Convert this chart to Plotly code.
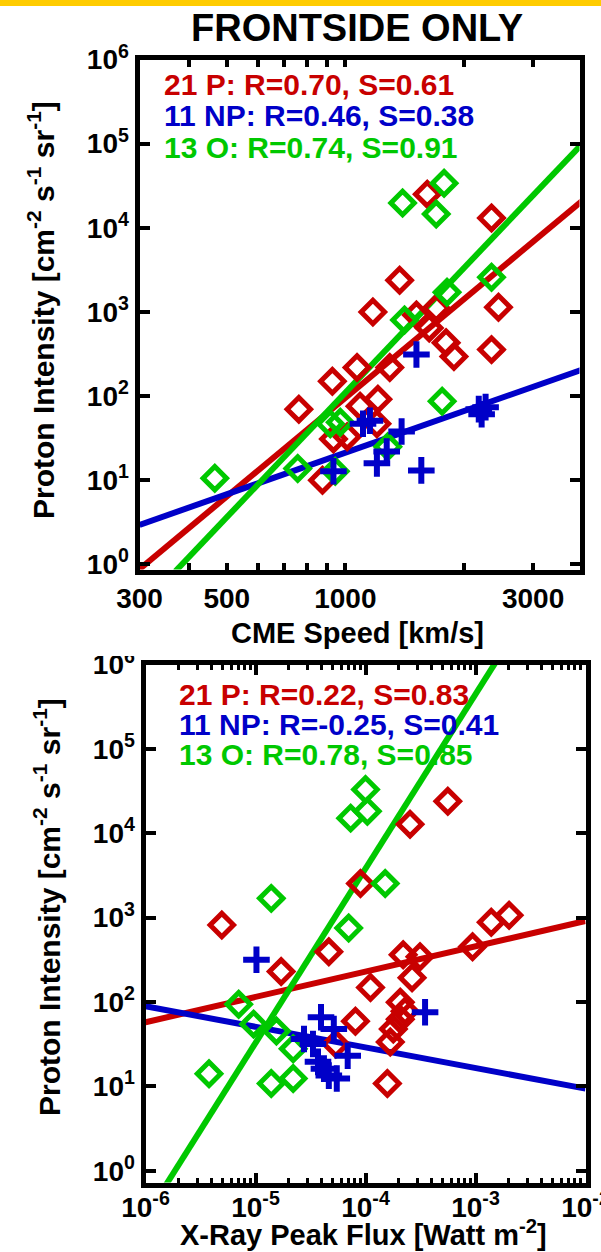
import plotly.graph_objects as go

W, H = 601, 1252
FONT = "Liberation Sans"
RED, BLUE, GREEN = "#C80000", "#0000C8", "#00C800"

# ---------------- TOP PANEL: CME speed vs proton intensity ----------------
top_p_speed = [1615, 2352, 1374, 1175, 2450, 1702, 1516, 1634, 1803, 1888, 2352,
               1297, 1071, 927, 762, 1210, 1090, 933, 1011, 1203, 875]
top_p_int = [25100, 13100, 2380, 1000, 1140, 1110, 922, 647, 432, 296, 357,
             219, 219, 150, 70, 92, 76, 31, 33, 47, 10]

top_np_speed = [1516, 2183, 2220, 2272, 1155, 1109, 1390, 1274, 1203, 1560, 933]
top_np_int = [312, 70, 61, 74, 51, 47, 38, 22, 15.9, 13.1, 12.8]

top_o_speed = [1782, 1398, 1702, 2352, 1813, 1414, 1762, 916, 971, 1282, 757, 943, 466]
top_o_int = [33800, 19700, 14600, 2580, 1720, 805, 87, 47, 49, 25, 13.8, 12.8, 10.6]

# fit line end points (data units)
top_fit_p_x, top_fit_p_y = [300, 4000], [0.88, 21000]
top_fit_np_x, top_fit_np_y = [300, 4000], [2.95, 207]
top_fit_o_x, top_fit_o_y = [370, 4000], [0.83, 100000]

top_xtick_vals = [300, 500, 1000, 3000]
top_xtick_text = ["300", "500", "1000", "3000"]
top_xminor_vals = [400, 600, 700, 800, 900, 2000]

# ---------------- BOTTOM PANEL: X-ray flux vs proton intensity ----------------
bot_p_flux = [5.6e-4, 2.54e-4, 9.0e-5, 4.94e-6, 1.71e-5, 4.64e-5, 2.2e-4, 3.13e-4,
              9.4e-4, 1.39e-3, 2.02e-3, 1.11e-4, 2.65e-4, 2.07e-4, 2.29e-4, 2.07e-4,
              1.79e-4, 1.68e-4, 8.1e-5, 1.58e-4, 5.37e-5]
bot_p_int = [23900, 12800, 2530, 815, 229, 393, 362, 343, 450, 883, 1067, 148, 194,
             99, 77.6, 62.5, 47.7, 33.6, 59.2, 10.8, 31.8]

bot_np_flux = [1.02e-5, 3.48e-4, 3.94e-5, 5.15e-5, 2.76e-5, 3.33e-5, 6.89e-5,
               3.7e-5, 4.19e-5, 4.64e-5, 5.48e-5]
bot_np_int = [316, 75.5, 66, 47.7, 36.4, 31.8, 23, 19.5, 16.2, 13.4, 12.4]

bot_o_flux = [1.0e-4, 7.33e-5, 1.04e-4, 1.51e-4, 1.39e-5, 7.03e-5, 7.03e-6, 9.6e-6,
              1.55e-5, 2.2e-5, 3.78e-6, 1.39e-5, 2.2e-5]
bot_o_int = [33000, 15100, 18200, 2530, 1690, 751, 93.7, 54.6, 45.2, 27.8, 14.1,
             10.8, 12.4]

bot_fit_p_x, bot_fit_p_y = [1e-6, 1e-2], [57.5, 912]
bot_fit_np_x, bot_fit_np_y = [1e-6, 1e-2], [89, 9.4]
bot_fit_o_x, bot_fit_o_y = [1e-6, 2e-3], [0.28, 1.86e6]

bot_xtick_vals = [1e-6, 1e-5, 1e-4, 1e-3, 1e-2]
bot_xtick_text = ["10<sup>-6</sup>", "10<sup>-5</sup>", "10<sup>-4</sup>",
                  "10<sup>-3</sup>", "10<sup>-2</sup>"]

ytick_vals = [1, 10, 100, 1000, 10000, 100000, 1000000]
ytick_text = ["10<sup>0</sup>", "10<sup>1</sup>", "10<sup>2</sup>", "10<sup>3</sup>",
              "10<sup>4</sup>", "10<sup>5</sup>", "10<sup>6</sup>"]

top_labels = ["21 P: R=0.70, S=0.61", "11 NP: R=0.46, S=0.38", "13 O: R=0.74, S=0.91"]
bot_labels = ["21 P: R=0.22, S=0.83", "11 NP: R=-0.25, S=0.41", "13 O: R=0.78, S=0.85"]
label_colors = [RED, BLUE, GREEN]

fig = go.Figure()

def add_panel(xa, ya, p, np_, o, fits):
    for (x, y), col in zip(fits, [RED, BLUE, GREEN]):
        fig.add_trace(go.Scatter(x=x, y=y, mode="lines", line=dict(color=col, width=6),
                                 xaxis=xa, yaxis=ya, showlegend=False, hoverinfo="skip"))
    fig.add_trace(go.Scatter(x=p[0], y=p[1], mode="markers", xaxis=xa, yaxis=ya, showlegend=False,
                             marker=dict(symbol="diamond-open", size=18, color=RED,
                                         line=dict(width=5, color=RED))))
    fig.add_trace(go.Scatter(x=o[0], y=o[1], mode="markers", xaxis=xa, yaxis=ya, showlegend=False,
                             marker=dict(symbol="diamond-open", size=18, color=GREEN,
                                         line=dict(width=5, color=GREEN))))
    fig.add_trace(go.Scatter(x=np_[0], y=np_[1], mode="markers", xaxis=xa, yaxis=ya, showlegend=False,
                             marker=dict(symbol="cross-thin", size=19, color=BLUE,
                                         line=dict(width=6, color=BLUE))))

add_panel("x", "y", (top_p_speed, top_p_int), (top_np_speed, top_np_int),
          (top_o_speed, top_o_int),
          [(top_fit_p_x, top_fit_p_y), (top_fit_np_x, top_fit_np_y), (top_fit_o_x, top_fit_o_y)])
add_panel("x2", "y2", (bot_p_flux, bot_p_int), (bot_np_flux, bot_np_int),
          (bot_o_flux, bot_o_int),
          [(bot_fit_p_x, bot_fit_p_y), (bot_fit_np_x, bot_fit_np_y), (bot_fit_o_x, bot_fit_o_y)])

def px(v):
    return v / W

def py(v):
    return 1 - v / H

tickfont = dict(family=FONT, size=28, color="black", weight="bold")
axis_common = dict(type="log", showline=True, linewidth=5, linecolor="black", mirror="allticks",
                   ticks="inside", ticklen=10, tickwidth=4, tickcolor="black",
                   showgrid=False, zeroline=False, tickfont=tickfont, automargin=False,
                   ticklabeloverflow="allow")

fig.update_layout(
    width=W, height=H, margin=dict(l=0, r=0, t=0, b=0, autoexpand=False),
    paper_bgcolor="white", plot_bgcolor="white",
    xaxis=dict(axis_common, domain=[px(139.5), px(579.5)], anchor="y",
               range=[2.4771, 3.595], tickmode="array", tickvals=top_xtick_vals,
               ticktext=top_xtick_text, ticklen=7,
               minor=dict(ticks="inside", tickmode="array", tickvals=top_xminor_vals,
                          ticklen=7, tickwidth=4, tickcolor="black", showgrid=False)),
    yaxis=dict(axis_common, domain=[py(569.5), py(59.5)], anchor="x",
               range=[-0.06, 6], tickmode="array", tickvals=ytick_vals, ticktext=ytick_text),
    xaxis2=dict(axis_common, domain=[px(145.5), px(585.5)], anchor="y2",
                range=[-6, -2], tickmode="array", tickvals=bot_xtick_vals, ticktext=bot_xtick_text,
                ticklabelstandoff=-4,
                minor=dict(ticks="inside", dtick="D1", ticklen=5, tickwidth=3,
                           tickcolor="black", showgrid=False)),
    yaxis2=dict(axis_common, domain=[py(1182.5), py(664.5)], anchor="x2",
                range=[-0.14, 6], tickmode="array", tickvals=ytick_vals, ticktext=ytick_text),
)

def note(text, x, y, font, xanchor="center", angle=0):
    return dict(text=text, x=px(x), y=py(y), xref="paper", yref="paper", showarrow=False,
                xanchor=xanchor, yanchor="middle", textangle=angle, font=font)

tf = dict(family=FONT, size=29, color="black", weight="bold")
yf = dict(family=FONT, size=30, color="black", weight="bold")
ann = [
    note("FRONTSIDE ONLY", 357, 28, dict(family=FONT, size=38, color="black", weight="bold")),
    note("CME Speed [km/s]", 357, 633, tf),
    note("X-Ray Peak Flux [Watt m<sup>-2</sup>]", 363, 1233, tf),
]
ytitle = "Proton Intensity [cm<sup>-2</sup> s<sup>-1</sup> sr<sup>-1</sup>]"
ann.append(note(ytitle, 41, 310, yf, angle=-90))
ann.append(note(ytitle, 47, 907, yf, angle=-90))
for i, (t, c) in enumerate(zip(top_labels, label_colors)):
    ann.append(note(t, 162, 85 + 31 * i, dict(family=FONT, size=30, color=c, weight="bold"),
                    xanchor="left"))
for i, (t, c) in enumerate(zip(bot_labels, label_colors)):
    ann.append(note(t, 177, 694 + 30 * i, dict(family=FONT, size=30, color=c, weight="bold"),
                    xanchor="left"))
fig.update_layout(annotations=ann)

# yellow strip at the very top and the clipped top of the lower panel's 10^6 label
fig.add_shape(type="rect", xref="paper", yref="paper", x0=0, x1=1, y0=py(6), y1=1,
              fillcolor="#FFCC00", line=dict(width=0), layer="above")
fig.add_shape(type="rect", xref="paper", yref="paper", x0=px(60), x1=px(138), y0=py(656),
              y1=py(646), fillcolor="white", line=dict(width=0), layer="above")

fig.write_html("out.html")
